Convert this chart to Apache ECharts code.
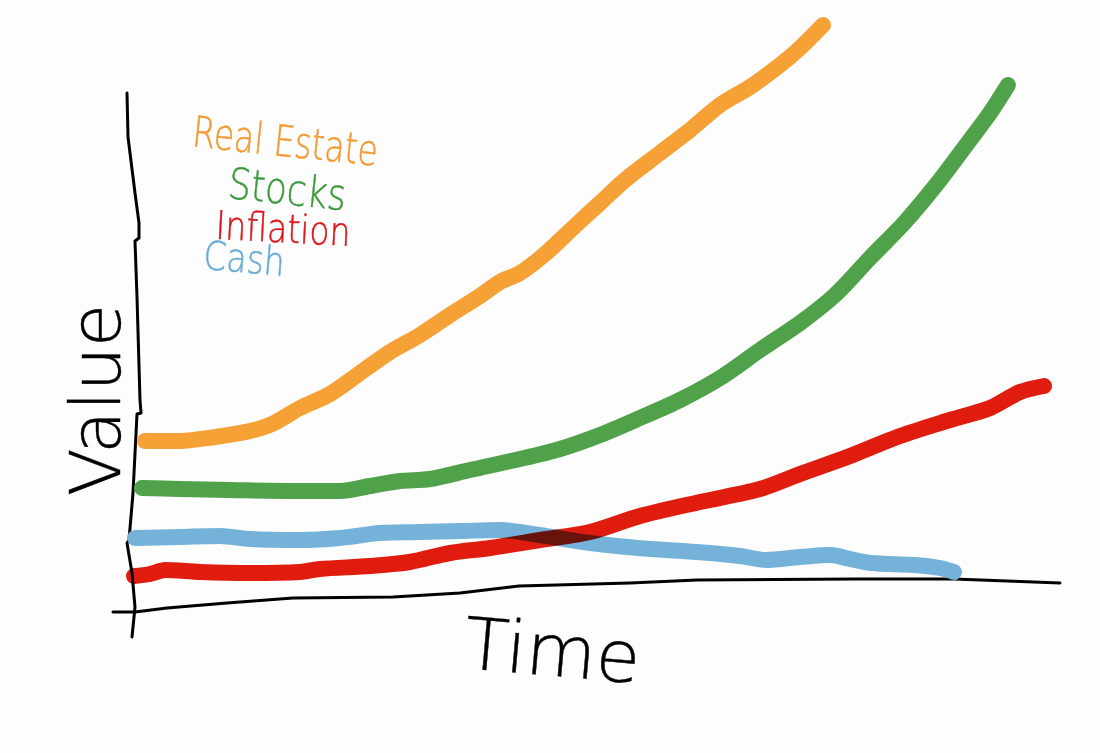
<!DOCTYPE html>
<html><head><meta charset="utf-8">
<style>html,body{margin:0;padding:0;background:#fdfdfd}#c{width:1100px;height:753px}</style>
<script src="https://cdn.jsdelivr.net/npm/echarts@6/dist/echarts.min.js"></script>
</head><body><div id="c"></div>
<script>
const realEstate = [[15,169],[50,169],[85,173],[120,179],[142,186],[170,202],[200,216],[230,237],[260,258],[290,275],[320,295],[350,314],[370,328],[390,337],[415,356],[445,384],[470,407],[495,430],[530,457],[560,480],[590,505],[620,523],[650,545],[670,562],[693,585]];
const stocks = [[12,122],[50,121],[100,120],[160,119],[210,119],[240,124],[270,129],[300,131],[340,140],[390,151],[430,161],[470,175],[510,192],[550,210],[590,232],[630,260],[670,287],[705,315],[740,352],[775,388],[810,430],[840,470],[860,497],[878,525]];
const inflation = [[4,34],[20,36],[35,40],[70,38],[120,37],[170,38],[190,41],[240,44],[280,48],[320,57],[360,62],[410,70],[460,78],[510,94],[570,108],[630,121],[670,136],[720,154],[770,174],[820,190],[860,202],[890,218],[914,224]];
const cash = [[5,72],[50,73],[90,74],[120,71],[170,70],[210,72],[250,77],[290,78],[330,79],[370,80],[409,75],[460,67],[508,62],[567,58],[610,54],[636,50],[670,53],[701,55],[720,51],[741,47],[785,45],[810,42],[824,38]];
const valueStroke = [[-3,517],[-2,473],[5,417],[9,387],[9,372],[5,369],[7,313],[10,210],[11,197],[7,196],[3,117],[-1,70],[-3,67],[2,37],[5,3],[2,-27]];
const timeStroke = [[-17,-2],[5,-2],[37,2],[97,7],[163,12],[263,13],[330,17],[389,24],[500,27],[567,30],[725,31],[824,31],[930,27]];

function thick(name, data, color, extra) {
  return Object.assign({
    name, type: 'line', data, smooth: 0.3, symbol: 'none', clip: false, silent: true,
    lineStyle: { color, width: 16, cap: 'round', join: 'round', opacity: 1 }
  }, extra || {});
}
function stroke(name, data) {
  return {
    name, type: 'line', data, symbol: 'none', clip: false, silent: true,
    lineStyle: { color: '#000', width: 3, cap: 'round', join: 'round' }
  };
}
function label(text, x, y, size, color, rotation, scaleY) {
  return {
    type: 'text', x, y, rotation: (rotation || 0) * Math.PI / 180, scaleY: scaleY || 1, z: 10,
    style: { text, fill: color, stroke: color, lineWidth: 0.4, font: '200 ' + size + 'px "DejaVu Sans", sans-serif', align: 'center', verticalAlign: 'middle' }
  };
}
const chart = echarts.init(document.getElementById('c'), null, { renderer: 'canvas' });
chart.setOption({
  animation: false,
  backgroundColor: '#fdfdfd',
  grid: { left: 0, right: 0, top: 0, bottom: 0 },
  xAxis: { type: 'value', min: -130, max: 970, show: false },
  yAxis: { type: 'value', min: -143, max: 610, show: false },
  tooltip: { show: false },
  series: [
    stroke('Value axis', valueStroke),
    stroke('Time axis', timeStroke),
    thick('Real Estate', realEstate, '#f6a136'),
    thick('Stocks', stocks, '#4fa14a'),
    thick('Cash', cash, '#75b2d9'),
    thick('Inflation', inflation, '#e21c0e', { blendMode: 'multiply' })
  ],
  graphic: [
    label('Real Estate', 285, 145, 33, '#f29a35', -6, 1.3),
    label('Stocks', 287, 193, 36, '#3f9a3e', -6, 1.2),
    label('Inflation', 283, 232, 33, '#d8181a', -3, 1.2),
    label('Cash', 244, 262, 33, '#69acd8', -5, 1.2),
    label('Time', 552, 657, 72, '#000', -5),
    label('Value', 102, 400, 70, '#000', 90)
  ]
});
</script></body></html>
